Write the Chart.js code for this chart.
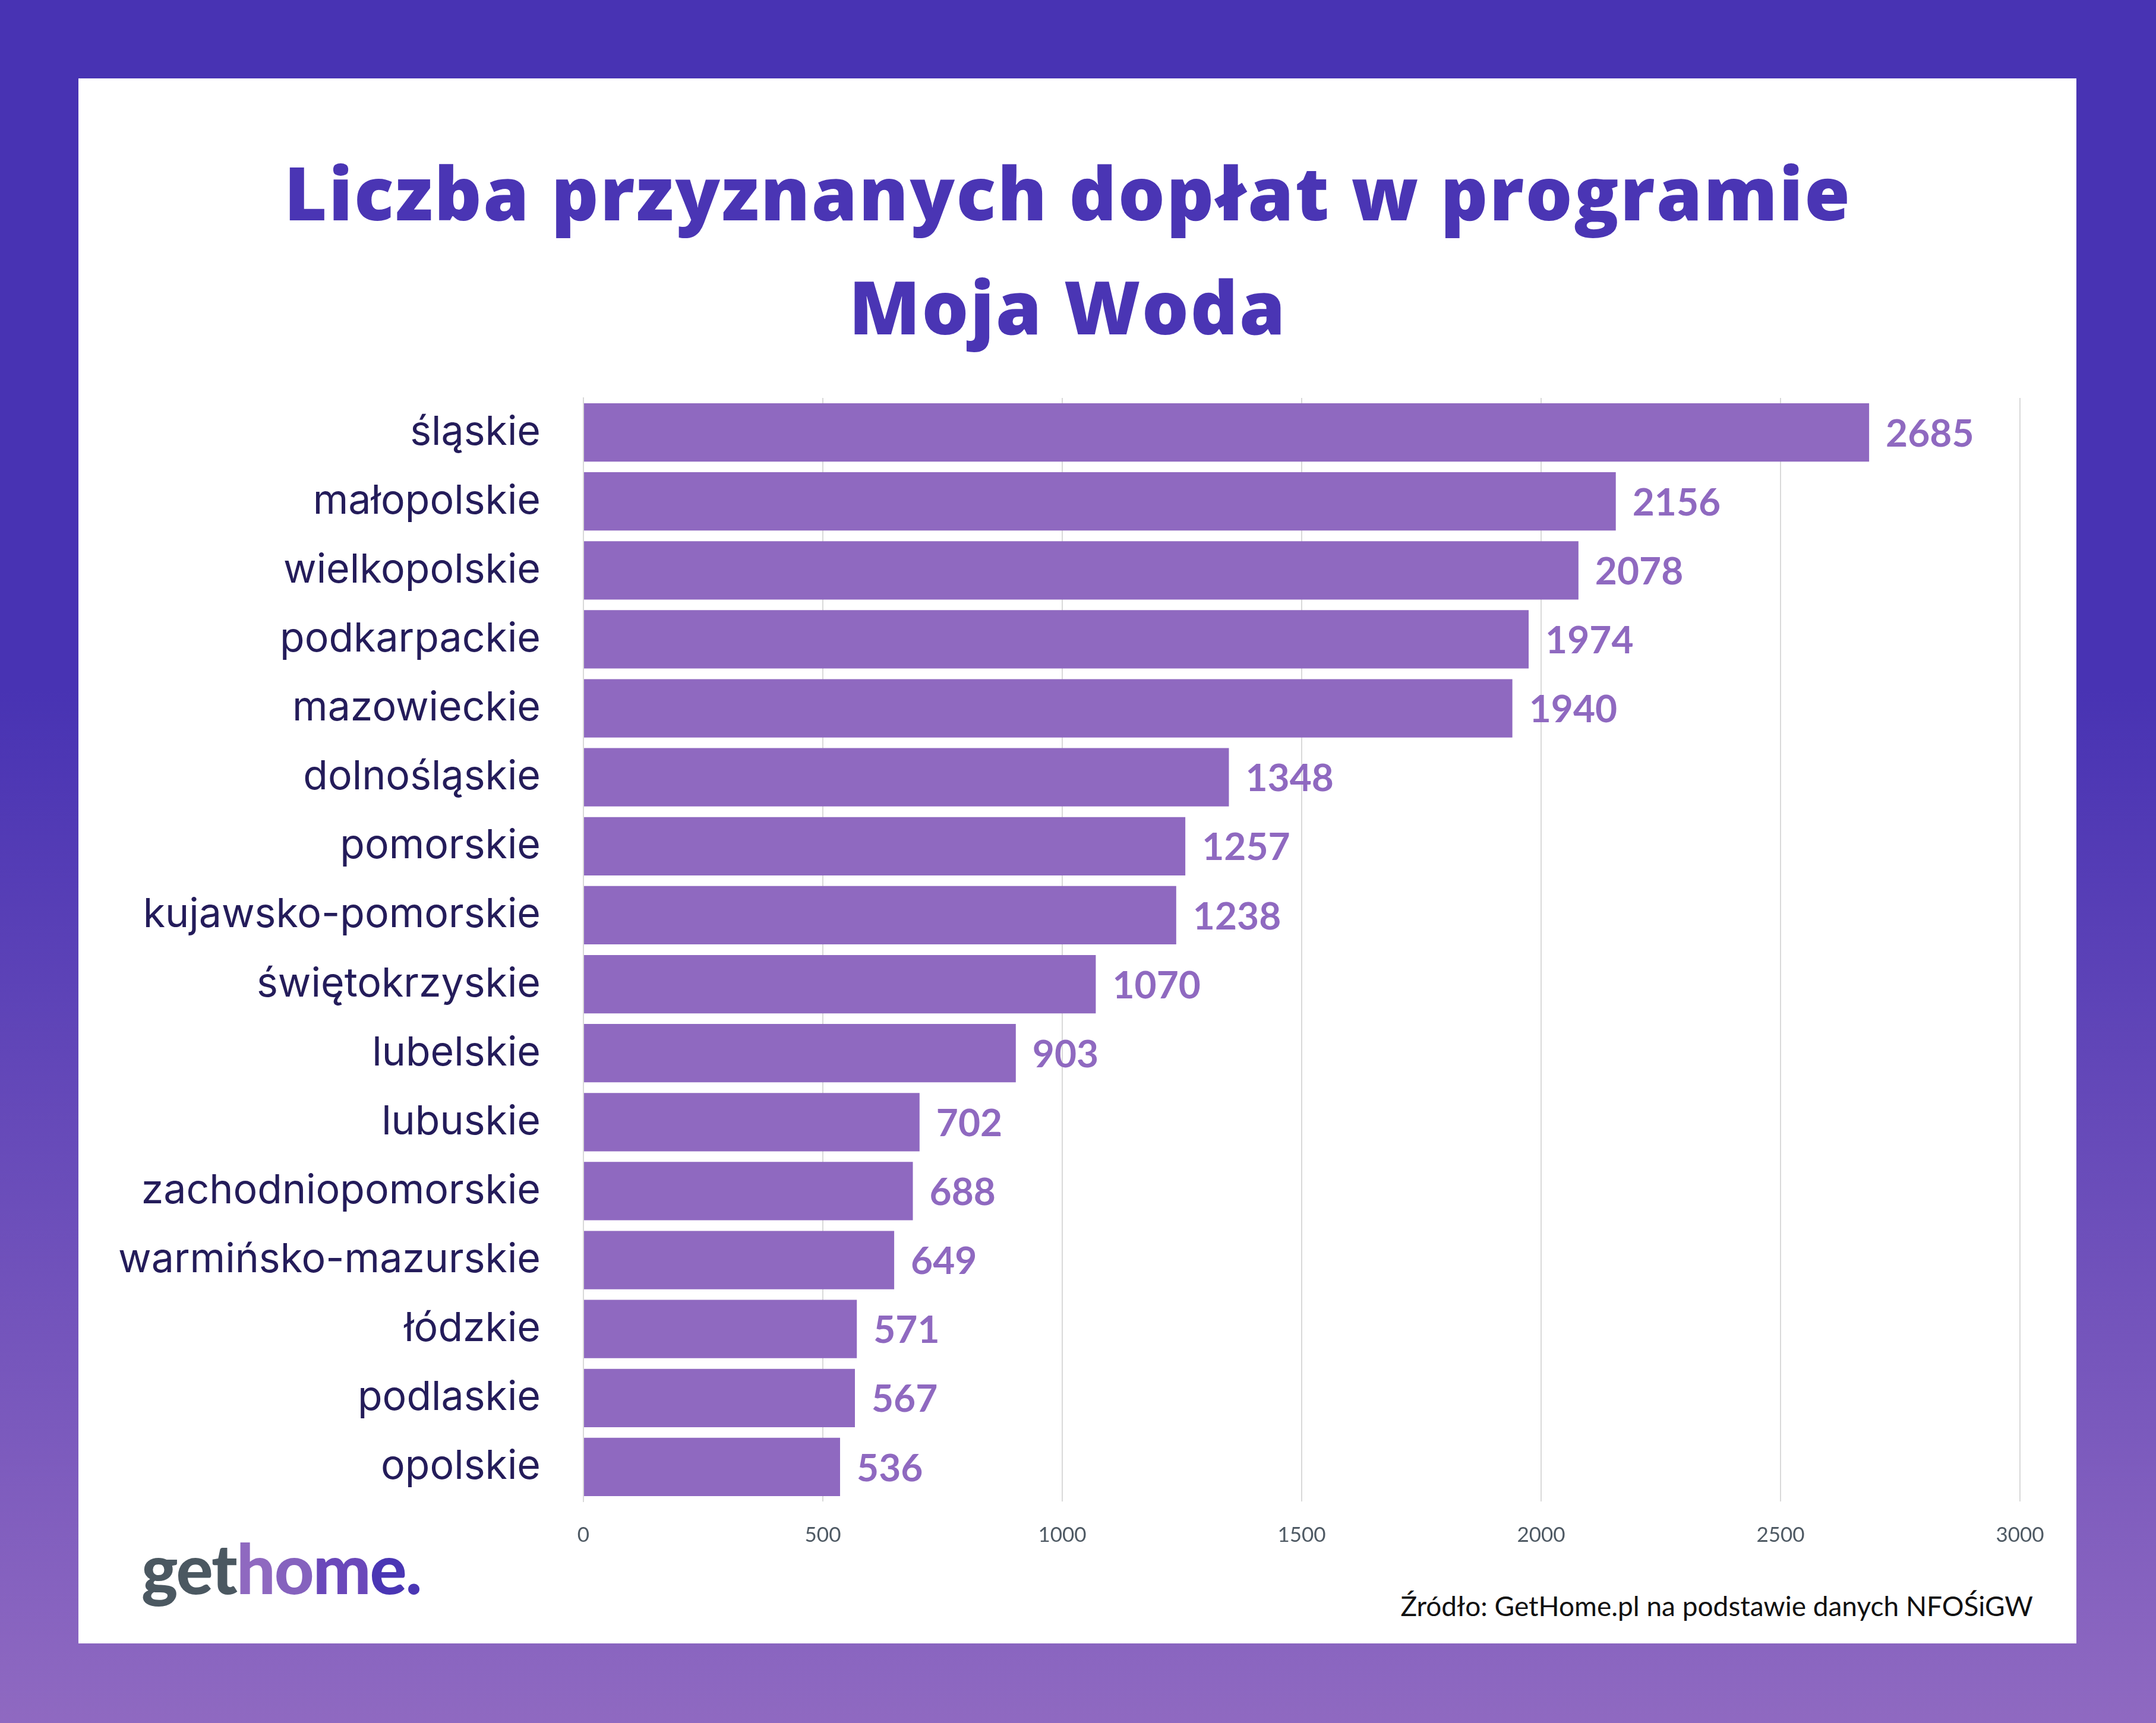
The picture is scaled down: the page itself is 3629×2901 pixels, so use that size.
<!DOCTYPE html>
<html lang="pl">
<head>
<meta charset="utf-8">
<script src="https://cdn.jsdelivr.net/npm/chart.js@4"></script>
<style>
  html, body { margin: 0; padding: 0; }
  body {
    width: 3629px; height: 2901px; position: relative; overflow: hidden;
    background: linear-gradient(180deg, #4833b3 0%, #4833b3 40%, #8f69c1 100%);
  }
  #panel { position: absolute; left: 132px; top: 132px; width: 3363px; height: 2635px; background: #fff; }
  .title {
    position: absolute; left: 0; width: 3595px; text-align: center;
    font-family: "Open Sans", sans-serif; font-weight: 800; font-size: 124px; color: #4a35b4;
    line-height: 1; white-space: nowrap; letter-spacing: 2.6px;
  }
  #chartBox { position: absolute; left: 150px; top: 640px; }
  #logo {
    position: absolute; left: 238px; top: 2582px;
    font-family: Lato, sans-serif; font-weight: 900; font-size: 116px; letter-spacing: -2px; line-height: 1;
  }
  #source {
    position: absolute; right: 207px; top: 2681px;
    font-family: Lato, sans-serif; font-size: 46px; color: #111; line-height: 1; white-space: nowrap;
  }
</style>
</head>
<body>
<div id="panel"></div>
<div class="title" style="top:261px">Liczba przyznanych dopłat w programie</div>
<div class="title" style="top:453px">Moja Woda</div>
<div id="chartBox"><canvas id="mojaWoda" width="3330" height="2000"></canvas></div>
<div id="logo"><span style="color:#4b5861">get</span><span style="color:#8f69c0">h</span><span style="color:#8562be">o</span><span style="color:#6a48ba">m</span><span style="color:#4a36b4">e.</span></div>
<div id="source">Źródło: GetHome.pl na podstawie danych NFOŚiGW</div>

<script>
const regions = ['śląskie', 'małopolskie', 'wielkopolskie', 'podkarpackie', 'mazowieckie', 'dolnośląskie', 'pomorskie', 'kujawsko-pomorskie', 'świętokrzyskie', 'lubelskie', 'lubuskie', 'zachodniopomorskie', 'warmińsko-mazurskie', 'łódzkie', 'podlaskie', 'opolskie'];
const grants = [2685, 2156, 2078, 1974, 1940, 1348, 1257, 1238, 1070, 903, 702, 688, 649, 571, 567, 536];
const xTicks = [0, 500, 1000, 1500, 2000, 2500, 3000];

const barColor = '#8f69c0';

// value labels to the right of each bar
const valueLabels = {
  id: 'valueLabels',
  afterDatasetsDraw(chart) {
    const ctx = chart.ctx;
    const meta = chart.getDatasetMeta(0);
    ctx.save();
    ctx.font = 'bold 64px Lato, sans-serif';
    ctx.fillStyle = barColor;
    ctx.textAlign = 'left';
    ctx.textBaseline = 'middle';
    meta.data.forEach((bar, i) => {
      ctx.fillText(grants[i], bar.x + 28, bar.y + 3);
    });
    ctx.restore();
  }
};

const mojaWoda = document.getElementById('mojaWoda');

new Chart(mojaWoda, {
  type: 'bar',
  data: {
    labels: regions,
    datasets: [{
      label: 'Liczba dopłat',
      data: grants,
      backgroundColor: barColor,
      borderWidth: 0,
      barPercentage: 0.845,
      categoryPercentage: 1
    }]
  },
  options: {
    indexAxis: 'y',
    responsive: false,
    animation: false,
    devicePixelRatio: 1,
    layout: { padding: { top: 30, right: 80, left: 0, bottom: 0 } },
    plugins: {
      legend: { display: false },
      tooltip: { enabled: false }
    },
    scales: {
      x: {
        min: 0,
        max: 3000,
        afterFit: (scale) => { scale.height = 112; },
        afterBuildTicks: (scale) => { scale.ticks = xTicks.map(v => ({ value: v })); },
        grid: { color: '#d9d9d9', lineWidth: 2, drawTicks: false },
        border: { display: false },
        ticks: {
          padding: 36,
          color: '#4f5a64',
          font: { family: 'Lato, sans-serif', size: 35 },
          callback: (v) => String(v)
        }
      },
      y: {
        afterFit: (scale) => {
          scale.width = 832;
          scale.paddingTop = 0;
          scale.paddingBottom = 0;
        },
        grid: { display: false, drawTicks: false },
        border: { color: '#d9d9d9', width: 2 },
        ticks: {
          padding: 72,
          color: '#241c5a',
          font: { family: 'Inter, sans-serif', size: 68 }
        }
      }
    }
  },
  plugins: [valueLabels]
});
</script>
</body>
</html>
